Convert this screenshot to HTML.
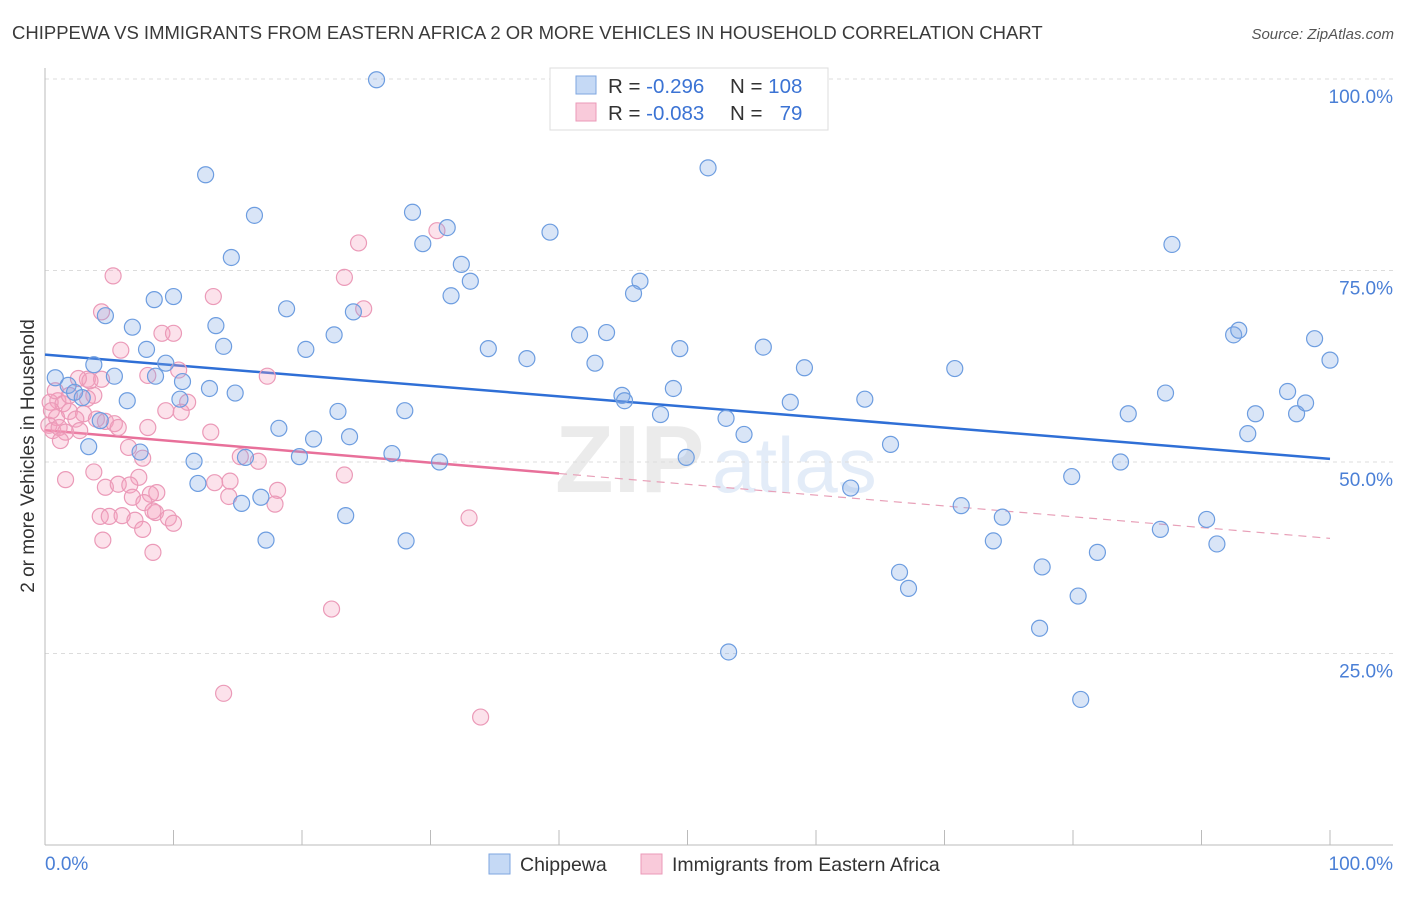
<!DOCTYPE html>
<html><head><meta charset="utf-8">
<style>
body{margin:0;background:#fff;width:1406px;height:892px;overflow:hidden;font-family:"Liberation Sans",sans-serif;}
svg text{font-family:"Liberation Sans",sans-serif;}
</style></head>
<body>
<svg id="chart" width="1406" height="892" xmlns="http://www.w3.org/2000/svg">
<text x="12" y="39" font-size="18.5" fill="#3a3a3a">CHIPPEWA VS IMMIGRANTS FROM EASTERN AFRICA 2 OR MORE VEHICLES IN HOUSEHOLD CORRELATION CHART</text>
<text x="1394" y="39" font-size="15" fill="#555" font-style="italic" text-anchor="end">Source: ZipAtlas.com</text>
<g opacity="0.5">
<text x="555" y="492" font-size="96" fill="#d8d8d8" font-family="Liberation Serif" font-weight="bold">ZIP</text>
<text x="712" y="492" font-size="78" fill="#c9daf2">atlas</text>
</g>
<g id="grid"></g>
<g id="axes"></g>
<g id="trends"></g>
<g id="pts"></g>
<text transform="translate(34,456) rotate(-90)" font-size="19" fill="#333" text-anchor="middle">2 or more Vehicles in Household</text>
<text x="45" y="870" font-size="19" fill="#4a7fd6">0.0%</text>
<text x="1393" y="870" font-size="19" fill="#4a7fd6" text-anchor="end">100.0%</text>
<g>
<rect x="550" y="68" width="278" height="62" fill="#fff" stroke="#ddd"/>
<rect x="576" y="76" width="20" height="18" fill="#c5d9f5" stroke="#7ea6e0"/>
<rect x="576" y="103" width="20" height="18" fill="#f9cada" stroke="#eb9ab8"/>
<text x="608" y="93" font-size="20.5" fill="#333">R = <tspan fill="#3b73d4">-0.296</tspan></text>
<text x="730" y="93" font-size="20.5" fill="#333">N = <tspan fill="#3b73d4">108</tspan></text>
<text x="608" y="120" font-size="20.5" fill="#333">R = <tspan fill="#3b73d4">-0.083</tspan></text>
<text x="730" y="120" font-size="20.5" fill="#333">N = <tspan fill="#3b73d4">&#160; 79</tspan></text>
</g>
<g>
<rect x="489" y="854" width="21" height="20" fill="#c5d9f5" stroke="#7ea6e0"/>
<text x="520" y="871" font-size="19.5" fill="#333">Chippewa</text>
<rect x="641" y="854" width="21" height="20" fill="#f9cada" stroke="#eb9ab8"/>
<text x="672" y="871" font-size="19.5" fill="#333">Immigrants from Eastern Africa</text>
</g>
</svg>
<script>
const yTicks=[25,50,75,100];
const yTickLabels=["25.0%","50.0%","75.0%","100.0%"];
const xTicks=[0,10,20,30,40,50,60,70,80,90,100];
const blueX=[25.8,12.5,51.6,16.3,28.6,31.3,39.3,29.4,87.7,14.5,32.4,33.1,46.3,8.5,10.0,31.6,45.8,18.8,24.0,6.8,13.3,22.5,41.6,43.7,92.5,92.9,98.8,4.7,13.9,7.9,20.3,34.5,49.4,55.9,37.5,42.8,3.8,9.4,100,0.8,5.4,8.6,10.7,59.1,70.8,1.8,2.3,12.8,14.8,48.9,87.2,96.7,6.4,2.9,10.5,44.9,45.1,58.0,63.8,22.8,28.0,47.9,53.0,84.3,94.2,97.4,98.1,4.3,18.2,20.9,23.7,54.4,65.8,93.6,3.4,7.4,19.8,27.0,15.6,11.6,30.7,49.9,83.7,79.9,11.9,62.7,16.8,15.3,23.4,71.3,74.5,90.4,17.2,28.1,73.8,86.8,91.2,81.9,77.6,66.5,67.2,80.4,77.4,53.2,80.6];
const blueY=[99.9,87.5,88.4,82.2,82.6,80.6,80.0,78.5,78.4,76.7,75.8,73.6,73.6,71.2,71.6,71.7,72.0,70.0,69.6,67.6,67.8,66.6,66.6,66.9,66.6,67.2,66.1,69.1,65.1,64.7,64.7,64.8,64.8,65.0,63.5,62.9,62.7,62.9,63.3,61.0,61.2,61.2,60.5,62.3,62.2,60.0,59.1,59.6,59.0,59.6,59.0,59.2,58.0,58.4,58.2,58.7,58.0,57.8,58.2,56.6,56.7,56.2,55.7,56.3,56.3,56.3,57.7,55.4,54.4,53.0,53.3,53.6,52.3,53.7,52.0,51.3,50.7,51.1,50.6,50.1,50.0,50.6,50.0,48.1,47.2,46.6,45.4,44.6,43.0,44.3,42.8,42.5,39.8,39.7,39.7,41.2,39.3,38.2,36.3,35.6,33.5,32.5,28.3,25.2,19.0];
const pinkX=[5.3,30.5,24.4,23.3,13.1,24.8,4.4,9.1,10.0,5.9,8.0,10.4,17.3,3.3,4.4,2.6,1.0,3.8,3.5,0.4,1.4,1.9,3.0,2.4,0.9,4.0,4.7,5.4,0.3,0.6,1.1,1.6,2.7,11.1,9.4,10.6,8.0,5.7,12.9,1.2,6.5,7.6,15.2,16.6,23.3,3.8,1.6,7.3,8.7,4.7,5.7,6.6,13.2,14.4,18.1,6.8,8.2,14.3,17.9,7.7,8.6,9.6,8.4,10.0,4.3,5.0,6.0,7.0,7.6,4.5,8.4,33.0,22.3,13.9,33.9,0.5,0.8,1.9,3.3];
const pinkY=[74.3,80.2,78.6,74.1,71.6,70.0,69.6,66.8,66.8,64.6,61.3,62.0,61.2,60.8,60.8,60.9,58.0,58.7,60.6,57.8,57.6,56.6,56.3,55.6,55.8,55.6,55.3,55.0,54.8,54.1,54.5,53.9,54.1,57.8,56.7,56.5,54.5,54.5,53.9,52.8,51.9,50.5,50.7,50.1,48.3,48.7,47.7,48.0,46.0,46.7,47.1,47.0,47.3,47.5,46.3,45.4,45.8,45.5,44.5,44.7,43.4,42.7,43.6,42.0,42.9,42.9,43.0,42.4,41.2,39.8,38.2,42.7,30.8,19.8,16.7,56.7,59.3,58.7,58.3];

const NS="http://www.w3.org/2000/svg";
const X0=45,X1=1330,Y0=845,Y100=79;
function sx(v){return X0+(X1-X0)*v/100;}
function sy(v){return Y0-(Y0-Y100)*v/100;}
function mk(tag,attrs,parent){const e=document.createElementNS(NS,tag);for(const k in attrs)e.setAttribute(k,attrs[k]);parent.appendChild(e);return e;}
const grid=document.getElementById('grid'),axes=document.getElementById('axes'),trends=document.getElementById('trends'),pts=document.getElementById('pts');
yTicks.forEach((t,i)=>{
  const l=mk('line',{x1:X0,x2:1393,y1:sy(t),y2:sy(t),stroke:'#dcdcdc','stroke-dasharray':'4,4'},grid);
  
  
  const tx=mk('text',{x:1393,y:sy(t)+24,'font-size':19,fill:'#4a7fd6','text-anchor':'end'},grid);
  tx.textContent=yTickLabels[i];
  
  
});
mk('line',{x1:X0,x2:X0,y1:68,y2:Y0,stroke:'#bbb'},axes);
mk('line',{x1:X0,x2:1393,y1:Y0,y2:Y0,stroke:'#bbb'},axes);
xTicks.forEach(t=>{
  const l=mk('line',{x1:sx(t),x2:sx(t),y1:Y0-15,y2:Y0,stroke:'#bbb'},axes);
  
  
});
function reg(xs,ys){const n=xs.length;let mx=0,my=0;for(let i=0;i<n;i++){mx+=xs[i];my+=ys[i];}mx/=n;my/=n;let sxy=0,sxx=0;for(let i=0;i<n;i++){sxy+=(xs[i]-mx)*(ys[i]-my);sxx+=(xs[i]-mx)**2;}const b=sxy/sxx;return [my-b*mx,b];}
const [ba,bb]=reg(blueX,blueY);
const bl=mk('line',{x1:sx(0),y1:sy(ba),x2:sx(100),y2:sy(ba+bb*100),stroke:'#2f6fd6','stroke-width':2.5},trends);


const [pa,pb]=reg(pinkX,pinkY);
const pxMax=40;
const pl=mk('line',{x1:sx(0),y1:sy(pa),x2:sx(pxMax),y2:sy(pa+pb*pxMax),stroke:'#e8709a','stroke-width':2.5},trends);


const pd=mk('line',{x1:sx(pxMax),y1:sy(pa+pb*pxMax),x2:sx(100),y2:sy(pa+pb*100),stroke:'#e8a0b8','stroke-width':1.2,'stroke-dasharray':'8,6'},trends);


pinkX.forEach((x,i)=>{
  const c=mk('circle',{cx:sx(x),cy:sy(pinkY[i]),r:8,fill:'rgba(244,160,190,0.3)',stroke:'#eb9ab8','stroke-width':1.2},pts);
  
  
});
blueX.forEach((x,i)=>{
  const c=mk('circle',{cx:sx(x),cy:sy(blueY[i]),r:8,fill:'rgba(130,170,230,0.3)',stroke:'#6d9de0','stroke-width':1.2},pts);
  
  
});
</script>
</body></html>
